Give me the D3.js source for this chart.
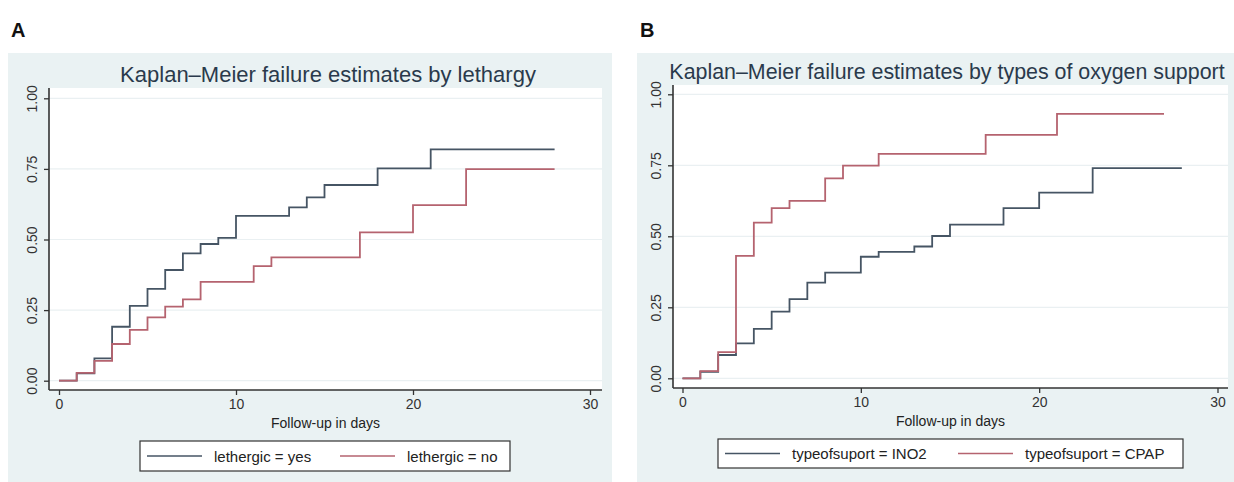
<!DOCTYPE html>
<html>
<head>
<meta charset="utf-8">
<script src="https://cdn.jsdelivr.net/npm/d3@7"></script>
<style>
  body { margin: 0; background: #ffffff; }
  svg { display: block; font-family: "Liberation Sans", Arial, sans-serif; }
</style>
</head>
<body>
<script>
'use strict';

// panel A: failure estimates by lethargy
const lethYesDays = [0, 1, 2, 3, 4, 5, 6, 7, 8, 9, 10, 13, 14, 15, 18, 21, 28];
const lethYesFail = [0, 0.026, 0.079, 0.191, 0.265, 0.325, 0.392, 0.451, 0.484, 0.506, 0.584, 0.614, 0.649, 0.693, 0.752, 0.819, 0.819];
const lethNoDays = [0, 1, 2, 3, 4, 5, 6, 7, 8, 11, 12, 17, 20, 23, 28];
const lethNoFail = [0, 0.028, 0.07, 0.13, 0.18, 0.224, 0.262, 0.288, 0.35, 0.406, 0.437, 0.525, 0.622, 0.749, 0.749];

// panel B: failure estimates by type of oxygen support
const ino2Days = [0, 1, 2, 3, 4, 5, 6, 7, 8, 10, 11, 13, 14, 15, 18, 20, 23, 28];
const ino2Fail = [0, 0.023, 0.082, 0.123, 0.174, 0.235, 0.279, 0.337, 0.372, 0.428, 0.445, 0.464, 0.501, 0.541, 0.599, 0.654, 0.74, 0.74];
const cpapDays = [0, 1, 2, 3, 4, 5, 6, 8, 9, 11, 17, 21, 27];
const cpapFail = [0, 0.025, 0.092, 0.431, 0.548, 0.599, 0.625, 0.704, 0.749, 0.79, 0.857, 0.931, 0.931];

const yTicks = [0, 0.25, 0.5, 0.75, 1];
const xTicks = [0, 10, 20, 30];

const darkCol = "#465564";
const redCol = "#b5636f";

const svg = d3.select("body").append("svg")
  .attr("width", 1234)
  .attr("height", 482);

// zip days + values into points
function pts(days, vals) {
  return days.map((d, i) => ({ t: d, f: vals[i] }));
}

function drawPanel(p) {
  // background
  svg.append("rect")
    .attr("x", p.bg[0]).attr("y", p.bg[1])
    .attr("width", p.bg[2]).attr("height", p.bg[3])
    .attr("fill", "#eaf2f3");

  svg.append("text")
    .attr("x", p.bg[0] + 3).attr("y", 37)
    .style("font-size", "20px").style("font-weight", "bold")
    .attr("fill", "#111")
    .text(p.letter);

  // plot region
  svg.append("rect")
    .attr("x", p.left).attr("y", p.top)
    .attr("width", p.right - p.left).attr("height", p.bottom - p.top)
    .attr("fill", "#ffffff");

  let x = d3.scaleLinear().domain([0, 30]).range([p.x0, p.x30]);
  let y = d3.scaleLinear().domain([0, 1]).range([p.y0, p.y1]);

  // grid lines
  svg.append("g").selectAll("line")
    .data(yTicks)
    .enter()
    .append("line")
    .attr("x1", p.left).attr("x2", p.right)
    .attr("y1", (d) => y(d)).attr("y2", (d) => y(d))
    .attr("stroke", "#eaf0f2")
    .attr("stroke-width", 1.2);

  // y axis
  let yAxis = d3.axisLeft(y).tickValues(yTicks).tickFormat(d3.format(".2f")).tickSize(5);
  let gy = svg.append("g")
    .attr("transform", "translate(" + p.left + ",0)")
    .call(yAxis);
  gy.select(".domain").remove();
  gy.selectAll(".tick line").attr("stroke", "#333").attr("stroke-width", 1.3);
  gy.selectAll(".tick text")
    .attr("transform", "rotate(-90)")
    .attr("x", 0).attr("y", -12).attr("dy", 0)
    .style("text-anchor", "middle")
    .style("font-size", "14px")
    .attr("fill", "#333");
  svg.append("line")
    .attr("x1", p.left).attr("x2", p.left)
    .attr("y1", p.top).attr("y2", p.bottom)
    .attr("stroke", "#333").attr("stroke-width", 1.6);

  // x axis
  let xAxis = d3.axisBottom(x).tickValues(xTicks).tickSize(5);
  let gx = svg.append("g")
    .attr("transform", "translate(0," + p.bottom + ")")
    .call(xAxis);
  gx.select(".domain").remove();
  gx.selectAll(".tick line").attr("stroke", "#333").attr("stroke-width", 1.3);
  gx.selectAll(".tick text")
    .attr("y", 9)
    .style("font-size", "14px")
    .attr("fill", "#333");
  svg.append("line")
    .attr("x1", p.left).attr("x2", p.right)
    .attr("y1", p.bottom).attr("y2", p.bottom)
    .attr("stroke", "#333").attr("stroke-width", 1.6);

  svg.append("text")
    .attr("x", (p.left + p.right) / 2).attr("y", p.bottom + 38)
    .attr("text-anchor", "middle")
    .style("font-size", "14px")
    .attr("fill", "#222")
    .text("Follow-up in days");

  // title
  svg.append("text")
    .attr("x", p.titleX).attr("y", p.titleY)
    .attr("text-anchor", "middle")
    .style("font-size", p.titleSize + "px")
    .attr("fill", "#2a3a4c")
    .text(p.title);

  // step curves
  let line = d3.line()
    .x((d) => x(d.t))
    .y((d) => y(d.f))
    .curve(d3.curveStepAfter);

  p.series.forEach((s) => {
    svg.append("path")
      .datum(s.data)
      .attr("fill", "none")
      .attr("stroke", s.color)
      .attr("stroke-width", 1.8)
      .attr("d", line);
  });

  // legend
  let lg = p.legend;
  svg.append("rect")
    .attr("x", lg.x).attr("y", lg.y)
    .attr("width", lg.w).attr("height", lg.h)
    .attr("fill", "#ffffff")
    .attr("stroke", "#333").attr("stroke-width", 1.2);
  p.series.forEach((s, i) => {
    let cy = lg.y + lg.h / 2;
    svg.append("line")
      .attr("x1", lg.items[i]).attr("x2", lg.items[i] + 55)
      .attr("y1", cy).attr("y2", cy)
      .attr("stroke", s.color).attr("stroke-width", 1.3);
    svg.append("text")
      .attr("x", lg.items[i] + 67).attr("y", cy + 5.5)
      .style("font-size", "15px")
      .attr("fill", "#222")
      .text(s.label);
  });
}

drawPanel({
  letter: "A",
  bg: [8, 53, 604, 429],
  left: 49, right: 602, top: 88, bottom: 390,
  x0: 59, x30: 590, y0: 380.7, y1: 98.3,
  titleX: 328, titleY: 82, titleSize: 22,
  title: "Kaplan\u2013Meier failure estimates by lethargy",
  series: [
    { data: pts(lethYesDays, lethYesFail), color: darkCol, label: "lethergic = yes" },
    { data: pts(lethNoDays, lethNoFail), color: redCol, label: "lethergic = no" }
  ],
  legend: { x: 140, y: 441, w: 370, h: 30, items: [147, 340] }
});

drawPanel({
  letter: "B",
  bg: [637, 53, 597, 429],
  left: 673, right: 1228, top: 85, bottom: 388,
  x0: 682.5, x30: 1217.5, y0: 378.3, y1: 94.3,
  titleX: 947, titleY: 79, titleSize: 21.4,
  title: "Kaplan\u2013Meier failure estimates by types of oxygen support",
  series: [
    { data: pts(ino2Days, ino2Fail), color: darkCol, label: "typeofsuport = INO2" },
    { data: pts(cpapDays, cpapFail), color: redCol, label: "typeofsuport = CPAP" }
  ],
  legend: { x: 718, y: 439, w: 465, h: 29, items: [725, 958] }
});
</script>
</body>
</html>
